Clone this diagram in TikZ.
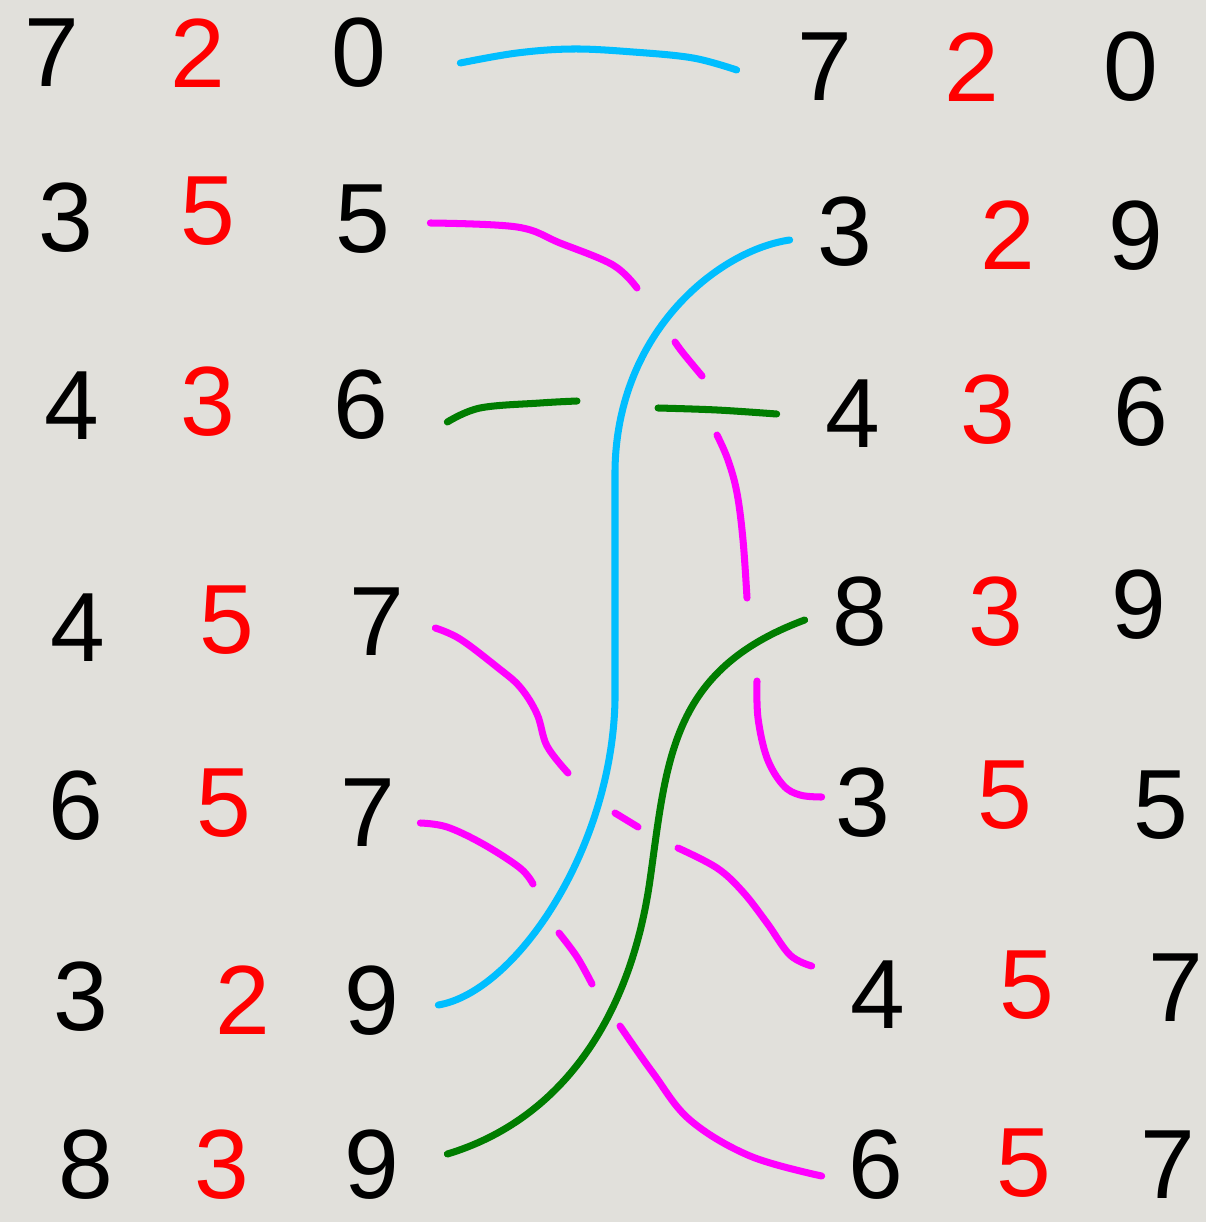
\documentclass[tikz,border=0pt]{standalone}
\usepackage{fontspec}
\setmainfont{Liberation Sans}
\usetikzlibrary{calc}
\definecolor{paper}{RGB}{225,224,219}
\definecolor{pencyan}{RGB}{0,190,255}
\definecolor{penmag}{RGB}{255,0,255}
\definecolor{pengreen}{RGB}{0,125,0}
\tikzset{digit/.style={inner sep=0pt, minimum width=1.2cm, font=\fontsize{56}{58}\selectfont},
key/.style={digit, text=red},
stroke/.style={line width=4pt, line cap=round, line join=round},
strand/.style={smooth, tension=0.6}}

\begin{document}
\begin{tikzpicture}[x=0.02cm, y=-0.02cm]
  \fill[paper] (0,0) rectangle (1206,1222);
  % left column
  \node[digit] (L11) at (52,53) {7};   \node[key] (L12) at (198,53) {2};   \node[digit] (L13) at (359,53) {0};
  \node[digit] (L21) at (66,218) {3};  \node[key] (L22) at (208,211) {5};  \node[digit] (L23) at (363,219) {5};
  \node[digit] (L31) at (72,406) {4};  \node[key] (L32) at (208,402) {3};  \node[digit] (L33) at (361,405) {6};
  \node[digit] (L41) at (78,628) {4};  \node[key] (L42) at (227,620) {5};  \node[digit] (L43) at (377,622) {7};
  \node[digit] (L51) at (76,806) {6};  \node[key] (L52) at (224,803) {5};  \node[digit] (L53) at (368,813) {7};
  \node[digit] (L61) at (81,997) {3};  \node[key] (L62) at (243,1000) {2}; \node[digit] (L63) at (372,1001) {9};
  \node[digit] (L71) at (86,1165) {8}; \node[key] (L72) at (222,1165) {3}; \node[digit] (L73) at (372,1165) {9};
  % right column
  \node[digit] (R11) at (825,67) {7};   \node[key] (R12) at (972,67) {2};    \node[digit] (R13) at (1131,67) {0};
  \node[digit] (R21) at (845,232) {3};  \node[key] (R22) at (1008,235) {2};  \node[digit] (R23) at (1136,236) {9};
  \node[digit] (R31) at (853,414) {4};  \node[key] (R32) at (988,410) {3};   \node[digit] (R33) at (1141,412) {6};
  \node[digit] (R41) at (860,612) {8};  \node[key] (R42) at (996,612) {3};   \node[digit] (R43) at (1139,605) {9};
  \node[digit] (R51) at (863,803) {3};  \node[key] (R52) at (1005,795) {5};  \node[digit] (R53) at (1161,805) {5};
  \node[digit] (R61) at (878,995) {4};  \node[key] (R62) at (1027,985) {5};  \node[digit] (R63) at (1176,988) {7};
  \node[digit] (R71) at (876,1165) {6}; \node[key] (R72) at (1024,1163) {5}; \node[digit] (R73) at (1168,1165) {7};
  % magenta strands (broken where they pass under)
  \draw[stroke, penmag]
    plot[strand] coordinates {($(L23.east)+(37,4)$) (517,227) (560,243) (613,265) (637,288)}
    plot[strand] coordinates {(675,342) (683,353) (702,376)}
    plot[strand] coordinates {(717,435) (728,460) (737,493) (743,540) (747,598)}
    plot[strand] coordinates {(757,681) (758,718) (767,758) (783,785) (800,795) ($(R51.west)+(-11,-6)$)};
  \draw[stroke, penmag]
    plot[strand] coordinates {($(L43.east)+(28,6)$) (460,639) (497,667) (520,687) (537,714) (547,746) (568,773)}
    plot[strand] coordinates {(615,813) (638,827)}
    plot[strand] coordinates {(678,848) (717,868) (743,892) (767,923) (790,955) ($(R61.west)+(-36,-29)$)};
  \draw[stroke, penmag]
    plot[strand] coordinates {($(L53.east)+(22,10)$) (447,827) (483,844) (520,868) (533,884)}
    plot[strand] coordinates {(559,933) (577,957) (592,984)}
    plot[strand] coordinates {(620,1026) (653,1073) (690,1120) (750,1156) ($(R71.west)+(-24,11)$)};
  % green strands
  \draw[stroke, pengreen]
    plot[strand] coordinates {($(L33.east)+(56,17)$) (480,408) (540,403) (577,401)}
    plot[strand] coordinates {(658,408) (717,410) ($(R31.west)+(-46,0)$)};
  \draw[stroke, pengreen] ($(L73.east)+(45,-11)$) .. controls (560,1120) and (630,1020) .. (650,880)
    .. controls (667,760) and (670,670) .. ($(R41.west)+(-25,8)$);
  % cyan strands
  \draw[stroke, pencyan]
    plot[strand] coordinates {($(L13.east)+(71,10)$) (517,53) (573,49) (633,52) (693,58) ($(R11.west)+(-58,3)$)};
  \draw[stroke, pencyan] ($(L63.east)+(36,4)$) .. controls (515,992) and (612,850) .. (615,700)
    -- (615,470) .. controls (617,330) and (720,250) .. ($(R21.west)+(-25,8)$);
\end{tikzpicture}
\end{document}
